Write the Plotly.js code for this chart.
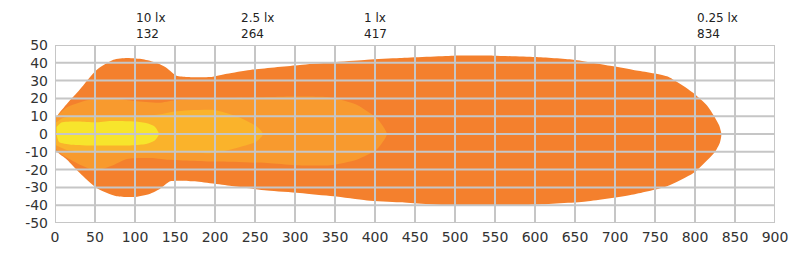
<!DOCTYPE html>
<html>
<head>
<meta charset="utf-8">
<script src="https://cdn.plot.ly/plotly-3.0.1.min.js"></script>
<style>html,body{margin:0;padding:0;background:#fff;}#chart{width:800px;height:268px;}</style>
</head>
<body>
<div id="chart"></div>
<script>
// Isolux contours (distance m, half-width m)
const lux025X = [0,4,15,31,52,73,90,110,127,140,152,165,194,215,244,306,390,431,498,548,600,648,698,723,765,798,815,824,830,833,
                 831,825,819,798,765,723,664,598,498,431,390,348,306,265,223,173,144,131,119,98,77,52,31,15,2,0];
const lux025Y = [8,11,17,25,36,41.7,42.7,42,40,37,32.7,32,32,33.9,36,38.8,41.7,42.7,44,44,43.2,41.7,38,36,32.4,23,16,10,5,0,
                 -5,-10,-13,-21.9,-29.4,-34,-37.9,-39.7,-40.3,-38.4,-37.3,-35,-33.1,-31.7,-29.4,-26.6,-26.6,-30.9,-33.5,-35.4,-35,-30.3,-21.9,-14.4,-9.8,-8];

const lux1X = [0,15,40,75,100,130,150,200,250,300,344,377,402,412,415,
               412,402,377,344,300,265,200,140,120,90,70,50,30,10,0];
const lux1Y = [9,15,19,20,18.5,17.5,19,20,20.5,21,20.5,16.5,9,3,0,
               -3,-8.8,-14.4,-17.5,-17.5,-16.3,-15.5,-14.4,-13.5,-14,-18,-20.5,-17,-12,-8];

const lux25X = [0,10,40,100,130,150,198,227,252,260,
                252,227,198,144,100,50,15,0];
const lux25Y = [6,9,10,10,11,12.7,13.5,10,4.3,0,
                -4.2,-7.9,-10.7,-9.8,-10.5,-10.5,-9,-6];

const lux10X = [2,8,30,50,70,100,115,125,130,
                125,115,100,50,20,5,2];
const lux10Y = [4,6.5,7,6.5,7.3,7,6,4,0,
                -3.5,-5.5,-6.3,-6.5,-6,-4.5,0];

const xTicks = [0,50,100,150,200,250,300,350,400,450,500,550,600,650,700,750,800,850,900];
const xTickText = ["0","50","100","150","200","250","300","350","400","450","500","550","600","650","700","750","800","850","900"];
const yTicks = [-50,-40,-30,-20,-10,0,10,20,30,40,50];
const yTickText = ["-50","-40","-30","-20","-10","0","10","20","30","40","50"];

const labelLux = ["10 lx","2.5 lx","1 lx","0.25 lx"];
const labelDist = [132,264,417,834];

const colors = {lux025:"#F4802D", lux1:"#F89A2E", lux25:"#FAB32B", lux10:"#F7E52C"};

function area(x,y,c){
  return {type:"scatter",mode:"lines",x:x,y:y,fill:"toself",fillcolor:c,
          line:{width:0,color:c,shape:"spline",smoothing:0.6},hoverinfo:"skip",showlegend:false};
}
const data = [
  area(lux025X,lux025Y,colors.lux025),
  area(lux1X,lux1Y,colors.lux1),
  area(lux25X,lux25Y,colors.lux25),
  area(lux10X,lux10Y,colors.lux10)
];

const gridColor = "#C6C6C6";
const shapes = [];
xTicks.forEach(v=>shapes.push({type:"line",layer:"above",xref:"x",yref:"y",x0:v,x1:v,y0:-50,y1:50,line:{color:gridColor,width:2}}));
yTicks.forEach(v=>shapes.push({type:"line",layer:"above",xref:"x",yref:"y",x0:0,x1:900,y0:v,y1:v,line:{color:gridColor,width:2}}));

const annotations = labelLux.map((t,i)=>({
  x:labelDist[i],y:50,xref:"x",yref:"y",text:t+"<br>"+labelDist[i],showarrow:false,
  xanchor:"left",yanchor:"bottom",align:"left",xshift:-27,yshift:2,
  font:{family:"DejaVu Sans",size:12,color:"#222"}
}));

const layout = {
  width:800,height:268,
  margin:{l:55,r:25,t:45,b:45},
  paper_bgcolor:"#fff",plot_bgcolor:"#fff",
  showlegend:false,
  xaxis:{range:[0,900],showgrid:false,zeroline:false,showline:false,ticks:"",
         tickvals:xTicks,ticktext:xTickText,ticklabelstandoff:4,
         tickfont:{family:"DejaVu Sans",size:14,color:"#333"},fixedrange:true},
  yaxis:{range:[-50,50],showgrid:false,zeroline:false,showline:false,ticks:"",
         tickvals:yTicks,ticktext:yTickText,ticklabelstandoff:6,
         tickfont:{family:"DejaVu Sans",size:14,color:"#333"},fixedrange:true},
  shapes:shapes,
  annotations:annotations
};
Plotly.newPlot("chart",data,layout,{staticPlot:true,displayModeBar:false});
</script>
</body>
</html>
